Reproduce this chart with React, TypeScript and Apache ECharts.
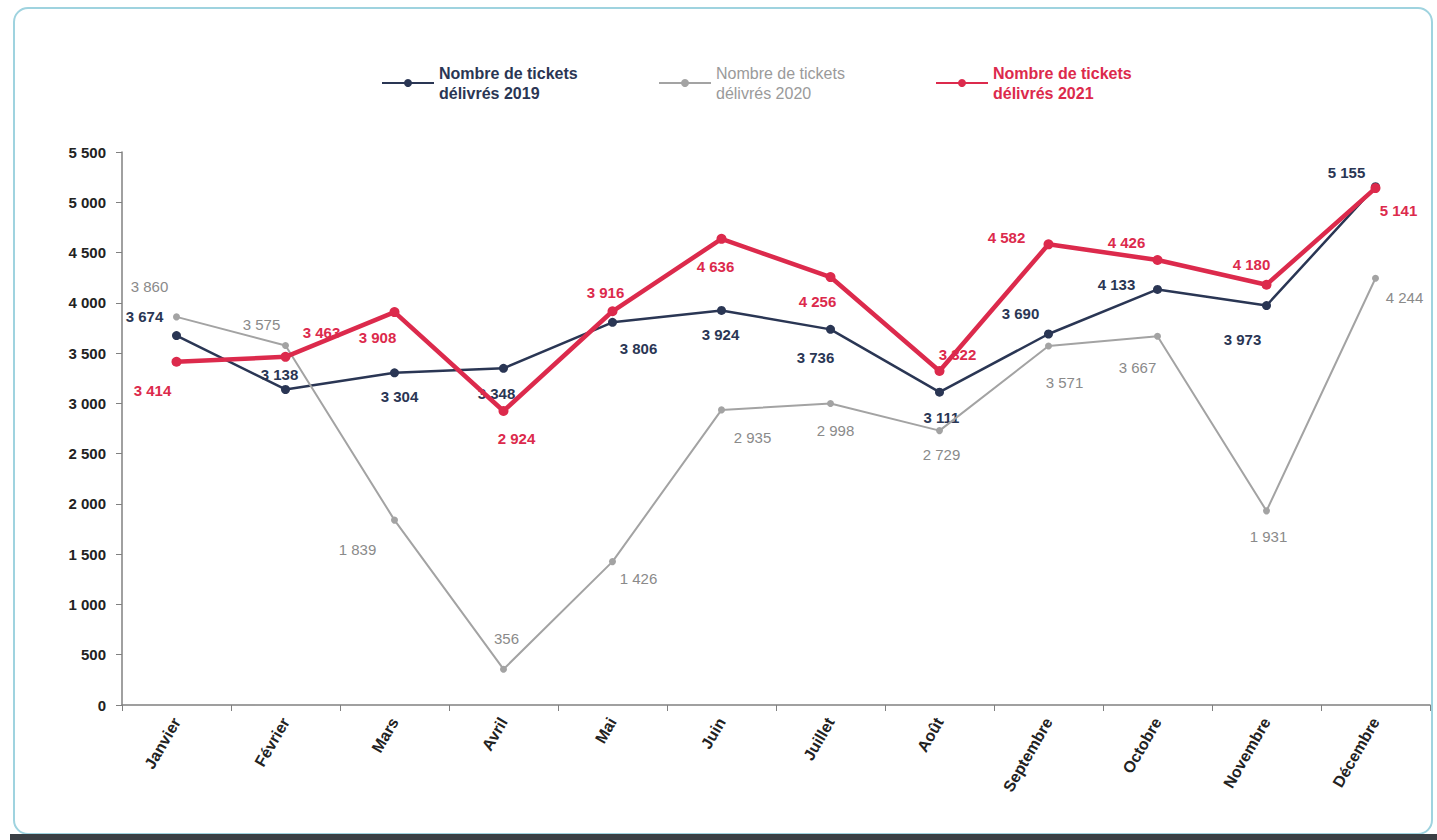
import React, { useEffect, useRef } from "react";
import * as echarts from "echarts";

const months = ["Janvier", "Février", "Mars", "Avril", "Mai", "Juin", "Juillet", "Août", "Septembre", "Octobre", "Novembre", "Décembre"];
const yTicks = [0, 500, 1000, 1500, 2000, 2500, 3000, 3500, 4000, 4500, 5000, 5500];
const tickets2019 = [3674, 3138, 3304, 3348, 3806, 3924, 3736, 3111, 3690, 4133, 3973, 5155];
const tickets2020 = [3860, 3575, 1839, 356, 1426, 2935, 2998, 2729, 3571, 3667, 1931, 4244];
const tickets2021 = [3414, 3463, 3908, 2924, 3916, 4636, 4256, 3322, 4582, 4426, 4180, 5141];
const seriesNames = ["Nombre de tickets\ndélivrés 2019", "Nombre de tickets\ndélivrés 2020", "Nombre de tickets\ndélivrés 2021"];

// label offsets (layout only)
const off2019 = [[-32, -19], [-6, -15], [5, 24], [-7, 25], [26, 26], [-1, 24], [-15, 28], [2, 25], [-28, -20], [-41, -5], [-24, 34], [-29, -14]];
const off2020 = [[-27, -30], [-24, -21], [-37, 29], [3, -31], [26, 17], [31, 28], [5, 27], [2, 24], [16, 37], [-20, 31], [2, 26], [29, 19]];
const off2021 = [[-24, 29], [36, -24], [-17, 25], [13, 27], [-7, -19], [-6, 28], [-13, 24], [18, -16], [-42, -7], [-31, -17], [-15, -20], [23, 22]];

const fmt = (v: number) => String(v).replace(/\B(?=(\d{3})+(?!\d))/g, " ");
const FONT = "Liberation Sans, Arial, sans-serif";
const C19 = "#2a3654";
const C20 = "#a3a3a3";
const C21 = "#dc2a4c";

function withLabels(vals: number[], offs: number[][]) {
  return vals.map((v, i) => ({ value: v, label: { offset: offs[i] } }));
}

export default function App() {
  const ref = useRef<HTMLDivElement>(null);
  useEffect(() => {
    document.body.style.margin = "0";
    const chart = echarts.init(ref.current!, null, { renderer: "svg" });
    const mkLabel = (color: string, bold: boolean) => ({
      show: true,
      position: "inside",
      align: "center",
      verticalAlign: "middle",
      color,
      fontFamily: FONT,
      fontSize: 15,
      fontWeight: bold ? "bold" : "normal",
      formatter: (p: any) => fmt(p.value),
    });
    const legendBase = (name: string, left: number, color: string, bold: boolean) => ({
      data: [name],
      left,
      top: 58,
      itemWidth: 52,
      itemHeight: 10,
      itemGap: 4,
      textStyle: { color, fontFamily: FONT, fontSize: 16, fontWeight: bold ? "bold" : "normal", lineHeight: 20 },
    });
    chart.setOption({
      animation: false,
      backgroundColor: "#ffffff",
      graphic: [
        {
          type: "rect",
          shape: { x: 14, y: 8, width: 1418, height: 826, r: 14 },
          style: { fill: "none", stroke: "#9fd3df", lineWidth: 2 },
          silent: true,
        },
        {
          type: "rect",
          shape: { x: 10, y: 834, width: 1427, height: 6 },
          style: { fill: "#3a3f44" },
          silent: true,
        },
      ],
      legend: [
        { ...legendBase(seriesNames[0], 376, C19, true) },
        { ...legendBase(seriesNames[1], 653, "#9a9a9a", false) },
        { ...legendBase(seriesNames[2], 930, C21, true) },
      ],
      grid: { left: 122, right: 7, top: 152, bottom: 135, containLabel: false },
      xAxis: {
        type: "category",
        data: months,
        boundaryGap: true,
        axisLine: { lineStyle: { color: "#808080", width: 1.5 } },
        axisTick: { show: true, length: 6, lineStyle: { color: "#808080" } },
        axisLabel: {
          rotate: 60,
          interval: 0,
          color: "#222",
          fontFamily: FONT,
          fontSize: 16,
          fontWeight: "bold",
          margin: 14,
        },
        splitLine: { show: false },
      },
      yAxis: {
        type: "value",
        min: 0,
        max: 5500,
        interval: 500,
        axisLine: { show: true, lineStyle: { color: "#808080", width: 1.5 } },
        axisTick: { show: true, length: 6, lineStyle: { color: "#808080" } },
        axisLabel: {
          color: "#222",
          fontFamily: FONT,
          fontSize: 15,
          fontWeight: "bold",
          margin: 16,
          formatter: (v: number) => (yTicks.includes(v) ? fmt(v) : ""),
        },
        splitLine: { show: false },
      },
      series: [
        {
          name: seriesNames[0],
          type: "line",
          data: withLabels(tickets2019, off2019),
          symbol: "circle",
          symbolSize: 9,
          lineStyle: { color: C19, width: 2.5 },
          itemStyle: { color: C19 },
          label: mkLabel(C19, true),
          z: 2,
        },
        {
          name: seriesNames[1],
          type: "line",
          data: withLabels(tickets2020, off2020),
          symbol: "circle",
          symbolSize: 7,
          lineStyle: { color: C20, width: 2 },
          itemStyle: { color: C20 },
          label: mkLabel("#8a8a8a", false),
          z: 3,
        },
        {
          name: seriesNames[2],
          type: "line",
          data: withLabels(tickets2021, off2021),
          symbol: "circle",
          symbolSize: 10,
          lineStyle: { color: C21, width: 4.5 },
          itemStyle: { color: C21 },
          label: mkLabel(C21, true),
          z: 4,
        },
      ],
    });
    return () => chart.dispose();
  }, []);
  return <div ref={ref} style={{ width: 1437, height: 840 }} />;
}
